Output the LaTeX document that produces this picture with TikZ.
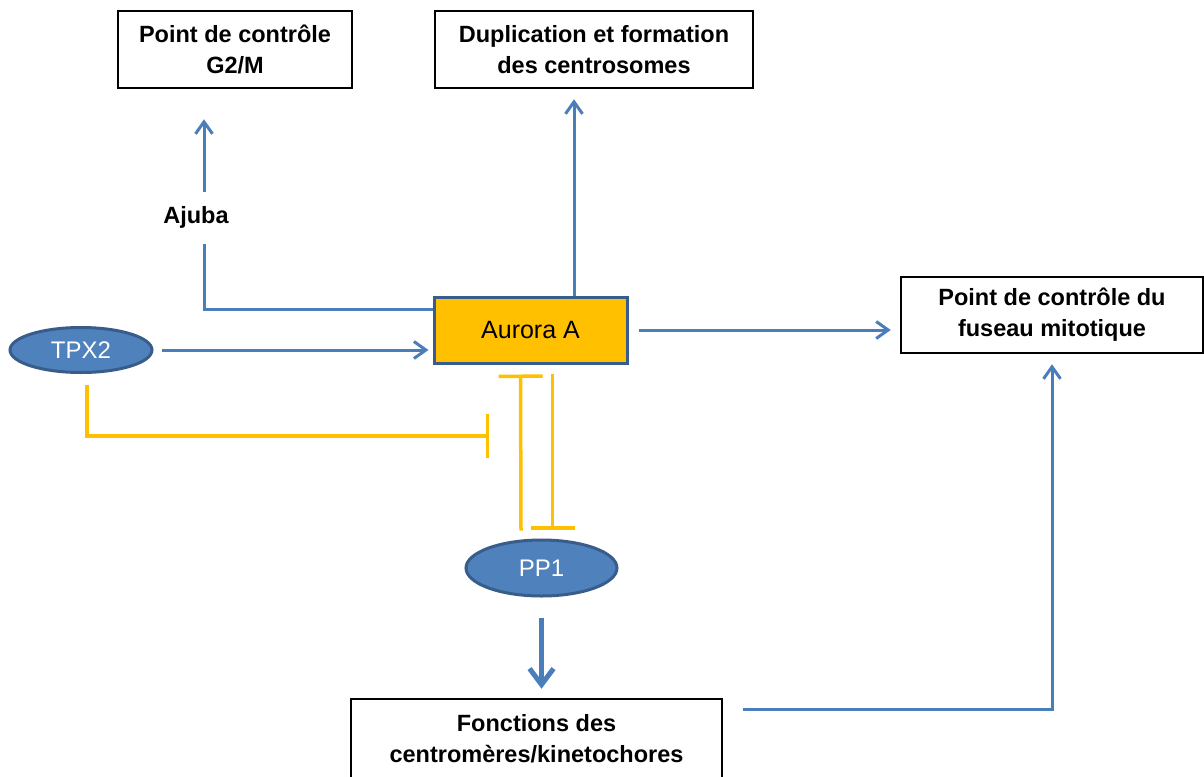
\documentclass[tikz,border=0pt]{standalone}
\usepackage{fontspec}
\setmainfont{Liberation Sans}
\usetikzlibrary{shapes.geometric,arrows.meta}
\definecolor{protblue}{HTML}{4F81BD}
\definecolor{protedge}{HTML}{385D8A}
\definecolor{kinase}{HTML}{FFC000}
\definecolor{linkblue}{HTML}{4A7EBB}
\tikzset{
  outbox/.style={draw=black, line width=2.5pt, minimum height=77pt, align=center,
    font=\fontsize{23.5}{31}\selectfont\bfseries, inner sep=0pt},
  protein/.style={ellipse, fill=protblue, draw=protedge, line width=3pt, text=white,
    inner sep=0pt, font=\fontsize{24}{28}\selectfont},
  kinasebox/.style={draw=protedge, fill=kinase, line width=3pt, inner sep=0pt,
    font=\fontsize{25}{30}\selectfont},
  act/.style={draw=linkblue, line width=3pt, -{Straight Barb[length=12pt,width=17pt]}},
  link/.style={draw=linkblue, line width=3pt},
  inh/.style={draw=kinase, line width=3.5pt, -{Bar[width=44pt]}},
}
\begin{document}
\begin{tikzpicture}[x=1pt,y=-1pt]
\useasboundingbox (0,0) rectangle (1204,776);
\fill[white] (0,0) rectangle (1204,776);
\clip (0,0) rectangle (1204,776);

% outcome boxes
\node[outbox, minimum width=234pt] (g2m) at (235,49.5) {Point de contrôle\\G2/M};
\node[outbox, minimum width=318pt] (dup) at (594,49.5) {Duplication et formation\\des centrosomes};
\node[outbox, minimum width=302pt, minimum height=76pt] (spindle) at (1052,315) {Point de contrôle du\\fuseau mitotique};
\node[outbox, minimum width=371pt, minimum height=79pt] (kin) at (536.5,738.5) {Fonctions des\\centromères/kinetochores};

% kinase and partners
\node[kinasebox, minimum width=193pt, minimum height=66pt] (aur) at (530.5,330) {Aurora A};
\node[protein, minimum width=142pt, minimum height=45pt] (tpx) at (81,350) {TPX2};
\node[protein, minimum width=151pt, minimum height=56pt] (pp1) at (541.5,568) {PP1};
\node[font=\fontsize{23.5}{28}\selectfont\bfseries, inner sep=0pt] (ajuba) at (196,217) {Ajuba};

% Ajuba branch towards G2/M
\coordinate (ajtop) at (204,192);
\coordinate (ajbot) at (204,244);
\draw[act, shorten >=30pt] (ajtop) -- (ajtop |- g2m.south);
\draw[link] ([yshift=21pt]aur.west) -| (ajbot);

% activations
\draw[act, shorten >=10pt] ([xshift=43.5pt]aur.north) -- ([xshift=-20pt]dup.south);
\draw[act, shorten <=8pt, shorten >=4pt] (tpx.east) -- (tpx.east -| aur.west);
\draw[act, shorten <=10pt, shorten >=9pt] (aur.east) -- (aur.east -| spindle.west);
\draw[link, line width=5pt, -{Straight Barb[length=16pt,width=24pt]}, shorten <=20pt, shorten >=9pt]
  (pp1.south) -- (pp1.south |- kin.north);
\draw[act, shorten <=20pt, shorten >=10pt] ([yshift=-12pt]kin.north east) -| (spindle.south);

% inhibitions
\coordinate (tpxblock) at (489,436);
\draw[inh] ([xshift=6pt,yshift=-11pt]tpx.south) |- (tpxblock);
\draw[inh] ([xshift=-20.5pt,yshift=8pt]pp1.north) -- ([xshift=-10pt,yshift=-10pt]aur.south);
\draw[inh] ([xshift=22pt,yshift=-9pt]aur.south) -- ([xshift=11pt,yshift=9pt]pp1.north);
\end{tikzpicture}
\end{document}
